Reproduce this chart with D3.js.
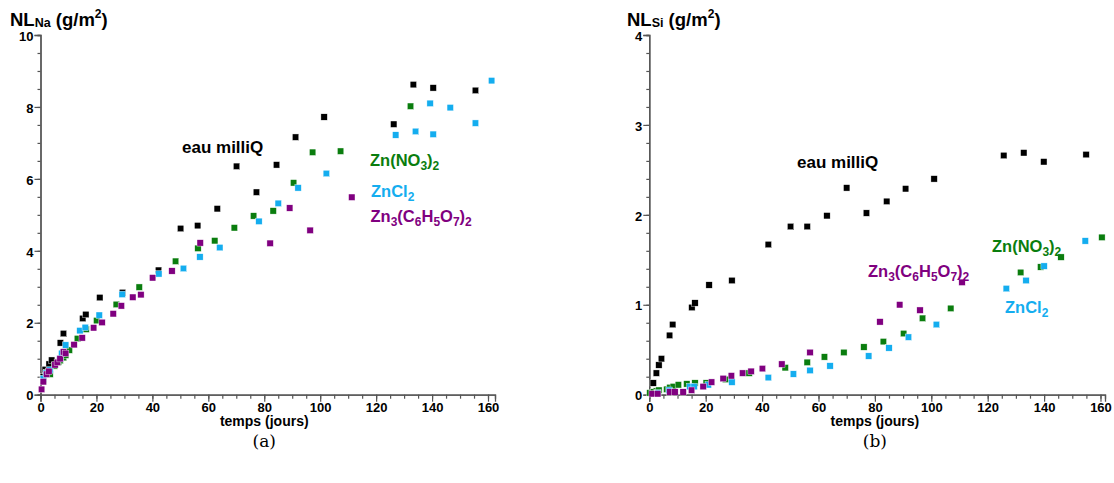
<!DOCTYPE html>
<html><head><meta charset="utf-8">
<script src="https://cdn.jsdelivr.net/npm/d3@7"></script>
<style>
body{margin:0;background:#fff;}
</style></head>
<body><svg id="c" width="1114" height="483" font-family="'Liberation Sans', Arial, sans-serif"></svg>
<script>
// ---- Panel (a): NL_Na ----
const naWaterX = [1, 1.7, 3.1, 4, 7.1, 8.2, 15.1, 16.2, 21.2, 29.3, 42.2, 50.1, 56.2, 63.2, 70.1, 77.2, 84.4, 91.2, 101.4, 126.3, 133.3, 140.4, 155.5];
const naWaterY = [0.5, 0.7, 0.85, 0.96, 1.44, 1.7, 2.12, 2.23, 2.7, 2.84, 3.46, 4.62, 4.7, 5.17, 6.35, 5.63, 6.39, 7.16, 7.72, 7.52, 8.62, 8.53, 8.46];
const naNitX = [1, 2.2, 3.4, 5, 6.4, 7, 8.2, 9, 10.3, 13.2, 16.3, 20.1, 27.1, 35.3, 48.3, 56.3, 62.3, 69.3, 76.2, 83.2, 90.5, 97.3, 107.3, 132.3];
const naNitY = [0.4, 0.61, 0.57, 0.8, 0.91, 0.95, 1.03, 1.1, 1.24, 1.56, 1.82, 2.06, 2.51, 2.99, 3.71, 4.07, 4.28, 4.64, 4.97, 5.11, 5.89, 6.74, 6.77, 8.02];
const naChlX = [1, 2, 3.4, 7, 7.6, 9, 14.1, 16, 21, 29.2, 42.3, 51.1, 57, 64.1, 78.1, 85, 92.1, 102.2, 127, 134.1, 139.3, 140.4, 146.5, 155.5, 161.3];
const naChlY = [0.45, 0.6, 0.69, 1.0, 1.15, 1.38, 1.78, 1.87, 2.21, 2.79, 3.36, 3.51, 3.83, 4.09, 4.82, 5.32, 5.75, 6.15, 7.22, 7.32, 8.1, 7.24, 7.98, 7.55, 8.73];
const naCitX = [0.4, 1, 2.2, 3, 5.2, 6, 7, 8.2, 9, 12, 14.9, 19, 22, 26, 28.9, 33, 35.9, 40.1, 47, 57.1, 82.1, 89.1, 96.4, 111.3];
const naCitY = [0.15, 0.36, 0.57, 0.65, 0.83, 0.9, 1.0, 1.19, 1.15, 1.39, 1.58, 1.86, 2.01, 2.25, 2.47, 2.71, 2.78, 3.25, 3.44, 4.22, 4.21, 5.19, 4.57, 5.49];

// ---- Panel (b): NL_Si ----
const siWaterX = [1.4, 2.5, 3.4, 4.3, 7.2, 8.3, 15.1, 16.2, 21.2, 29.3, 42.2, 50.1, 56, 63, 70, 77, 84.2, 90.9, 101, 125.7, 132.8, 139.9, 154.9];
const siWaterY = [0.13, 0.24, 0.33, 0.4, 0.66, 0.78, 0.97, 1.02, 1.22, 1.27, 1.67, 1.87, 1.87, 1.99, 2.3, 2.02, 2.15, 2.29, 2.4, 2.66, 2.69, 2.59, 2.67];
const siNitX = [0.2, 1.5, 2.5, 3.4, 6.2, 7.3, 8.5, 10.3, 13.3, 16.2, 20.2, 27.1, 35.4, 48.2, 56, 62.1, 69, 76.1, 83, 90.2, 96.9, 106.9, 131.7, 138.8, 146, 160.5];
const siNitY = [0.02, 0.03, 0.04, 0.05, 0.06, 0.08, 0.09, 0.11, 0.12, 0.13, 0.13, 0.17, 0.24, 0.3, 0.36, 0.42, 0.47, 0.53, 0.59, 0.68, 0.85, 0.96, 1.36, 1.42, 1.53, 1.75];
const siChlX = [3, 7, 14.4, 15.9, 20.9, 29.3, 42.2, 51.1, 57, 64.1, 77.8, 85, 91.9, 101.8, 126.6, 133.6, 140, 154.6];
const siChlY = [0.02, 0.05, 0.09, 0.09, 0.11, 0.14, 0.19, 0.23, 0.27, 0.32, 0.43, 0.52, 0.64, 0.78, 1.18, 1.27, 1.43, 1.71];
const siCitX = [1, 3, 7.3, 9.1, 12, 15, 19.1, 22.1, 26.2, 29.1, 33.1, 36.1, 40.1, 47, 57, 81.8, 88.8, 96, 110.9];
const siCitY = [0.01, 0.01, 0.03, 0.03, 0.03, 0.05, 0.09, 0.14, 0.18, 0.21, 0.24, 0.26, 0.29, 0.34, 0.47, 0.81, 1.0, 0.94, 1.25];

const xTicks = [0, 20, 40, 60, 80, 100, 120, 140, 160];
const naYTicks = [0, 2, 4, 6, 8, 10];
const siYTicks = [0, 1, 2, 3, 4];
const colors = {water: "#000000", nit: "#0a7d0e", chl: "#14adef", cit: "#800080"};
const SANS = "'Liberation Sans', Arial, sans-serif";

const svg = d3.select("#c");

function panel(o) {
  const g = svg.append("g");
  const x = d3.scaleLinear().domain([0, o.xMax]).range([o.x0, o.x1]);
  const y = d3.scaleLinear().domain([0, o.yMax]).range([394.7, 35]);
  const gxm = g.append("g").attr("transform", "translate(0,394.7)")
    .call(d3.axisBottom(x).tickValues(d3.range(0, 161, 5)).tickSize(4).tickFormat(""));
  const gx = g.append("g").attr("transform", "translate(0,394.7)")
    .call(d3.axisBottom(x).tickValues(xTicks).tickSize(7).tickPadding(1).tickFormat(d3.format("d")));
  const gym = g.append("g").attr("transform", `translate(${o.x0},0)`)
    .call(d3.axisLeft(y).tickValues(d3.range(0, o.yMax + 1e-9, o.yMinor)).tickSize(3).tickFormat(""));
  const gy = g.append("g").attr("transform", `translate(${o.x0},0)`)
    .call(d3.axisLeft(y).tickValues(o.yTicks).tickSize(6).tickPadding(1).tickFormat(d3.format("d")));
  [gxm, gx, gym, gy].forEach(a => {
    a.attr("font-family", SANS).attr("font-size", 13);
    a.selectAll("path.domain").attr("stroke", "#555").attr("stroke-width", 1.3);
    a.selectAll(".tick line").attr("stroke", "#555").attr("stroke-width", 1.2);
    a.selectAll("text").attr("font-weight", "bold").attr("fill", "#000");
  });
  gy.selectAll(".tick text").attr("dy", "0.4em");
  gx.selectAll(".tick text").attr("dy", "0.68em");
  const sz = 6.4;
  o.series.forEach(s => {
    g.append("g").selectAll("rect").data(s.xs.map((v, i) => [v, s.ys[i]])).join("rect")
      .attr("x", d => x(d[0]) - sz / 2).attr("y", d => y(d[1]) - sz / 2)
      .attr("width", sz).attr("height", sz).attr("fill", s.color)
      .attr("stroke", "#fff").attr("stroke-width", 0.4);
  });
  g.append("text").attr("x", (o.x0 + x(160)) / 2).attr("y", 426)
    .attr("text-anchor", "middle").attr("font-size", 14).attr("font-weight", "bold").text("temps (jours)");
  const t = g.append("text").attr("x", o.tx).attr("y", 25.5).attr("font-size", 18.5).attr("font-weight", "bold");
  t.append("tspan").text("NL");
  t.append("tspan").attr("font-size", 12.5).attr("dy", 1).text(o.sub);
  t.append("tspan").attr("dy", -1).text(" (g/m");
  t.append("tspan").attr("font-size", 12).attr("dy", -8).text("2");
  t.append("tspan").attr("dy", 8).text(")");
  g.append("text").attr("x", (o.x0 + x(160)) / 2).attr("y", 447).attr("text-anchor", "middle")
    .attr("font-size", 17).attr("font-family", "'DejaVu Serif','Liberation Serif',serif").text(o.cap);
  return {x, y};
}

function label(x, y, c, parts, fs) {
  fs = fs || 16.5;
  const t = svg.append("text").attr("x", x).attr("y", y).attr("font-size", fs)
    .attr("font-weight", "bold").attr("fill", c);
  let sub = false;
  parts.forEach(p => {
    const isSub = Array.isArray(p);
    const txt = isSub ? p[0] : p;
    const dy = isSub && !sub ? 4 : (!isSub && sub ? -4 : 0);
    t.append("tspan").attr("dy", dy).attr("font-size", isSub ? 12 : fs).text(txt);
    sub = isSub;
  });
}

panel({x0: 40.5, x1: 495, xMax: 162.5, yMax: 10, yMinor: 0.5, yTicks: naYTicks, tx: 10, sub: "Na", cap: "(a)",
  series: [
    {xs: naWaterX, ys: naWaterY, color: colors.water},
    {xs: naNitX, ys: naNitY, color: colors.nit},
    {xs: naChlX, ys: naChlY, color: colors.chl},
    {xs: naCitX, ys: naCitY, color: colors.cit}
  ]});
panel({x0: 649.3, x1: 1105, xMax: 161.6, yMax: 4, yMinor: 0.2, yTicks: siYTicks, tx: 627, sub: "Si", cap: "(b)",
  series: [
    {xs: siWaterX, ys: siWaterY, color: colors.water},
    {xs: siNitX, ys: siNitY, color: colors.nit},
    {xs: siChlX, ys: siChlY, color: colors.chl},
    {xs: siCitX, ys: siCitY, color: colors.cit}
  ]});

label(182, 153, colors.water, ["eau milliQ"], 17);
label(370, 166, colors.nit, ["Zn(NO", ["3"], ")", ["2"]]);
label(371, 197, colors.chl, ["ZnCl", ["2"]]);
label(370.5, 222, colors.cit, ["Zn", ["3"], "(C", ["6"], "H", ["5"], "O", ["7"], ")", ["2"]]);

label(797, 168, colors.water, ["eau milliQ"], 17);
label(992, 252, colors.nit, ["Zn(NO", ["3"], ")", ["2"]]);
label(868, 277, colors.cit, ["Zn", ["3"], "(C", ["6"], "H", ["5"], "O", ["7"], ")", ["2"]]);
label(1005, 313, colors.chl, ["ZnCl", ["2"]]);
</script></body></html>
